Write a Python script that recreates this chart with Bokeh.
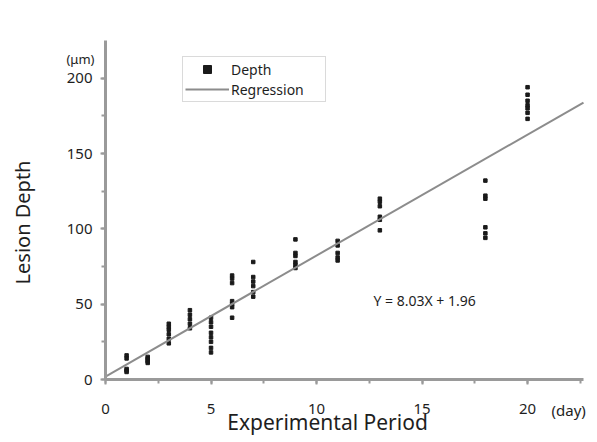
from bokeh.plotting import figure
from bokeh.models import Range1d, Label, Legend, LegendItem, FixedTicker
from bokeh.embed import file_html
from bokeh.resources import INLINE
import numpy as np

# ---- data ----
days = [1, 2, 3, 4, 5, 6, 7, 9, 11, 13, 18, 20]
depth_by_day = [
    [16, 14, 7, 6, 5],
    [15, 14, 13, 12, 11],
    [37, 35, 33, 30, 27, 24],
    [46, 43, 40, 37, 34],
    [41, 38, 35, 31, 28, 25, 21, 18],
    [69, 67, 64, 52, 50, 48, 41],
    [78, 68, 65, 62, 58, 55],
    [93, 84, 82, 78, 76, 74],
    [92, 89, 84, 81, 79],
    [120, 118, 115, 108, 106, 99],
    [132, 122, 120, 101, 97, 94],
    [194, 189, 185, 182, 180, 177, 173],
]
slope = 8.03
intercept = 1.96
x_ticks = [0, 5, 10, 15, 20]
y_ticks = [0, 50, 100, 150, 200]
x_axis_end = 22.65
y_axis_end = 225

xs = [d for d, vals in zip(days, depth_by_day) for _ in vals]
ys = [v for vals in depth_by_day for v in vals]
reg_x = np.array([0.0, x_axis_end])
reg_y = slope * reg_x + intercept

FONT = "Noto Sans"
TXT = "#1e1e1e"
AX = "#9a9a9a"

W, H = 597, 442
x0_px, x1_px = 105, 583      # canvas x of 0 and of axis end
y0_px, y1_px = 379, 40       # canvas y of 0 and of axis end
sx = (x1_px - x0_px) / x_axis_end
sy = (y0_px - y1_px) / y_axis_end
x_range = Range1d(-x0_px / sx, x_axis_end + (W - x1_px) / sx)
y_range = Range1d(-(H - y0_px) / sy, y_axis_end + y1_px / sy)

p = figure(width=W, height=H, output_backend="svg", toolbar_location=None,
           x_range=x_range, y_range=y_range, min_border=0)
p.outline_line_color = None
p.xgrid.grid_line_color = None
p.ygrid.grid_line_color = None
p.background_fill_color = "white"
p.border_fill_color = "white"

for ax in (p.xaxis[0], p.yaxis[0]):
    ax.fixed_location = 0
    ax.axis_line_color = AX
    ax.axis_line_width = 3
    ax.major_tick_line_color = AX
    ax.minor_tick_line_color = AX
    ax.major_tick_line_width = 2
    ax.minor_tick_line_width = 2
    ax.major_tick_in = 0
    ax.minor_tick_in = 0
    ax.major_tick_out = 5
    ax.minor_tick_out = 4
    ax.major_label_text_font = FONT
    ax.major_label_text_font_size = "15px"
    ax.major_label_text_color = TXT

p.xaxis[0].bounds = (0, x_axis_end)
p.yaxis[0].bounds = (0, y_axis_end)
p.xaxis[0].ticker = FixedTicker(ticks=x_ticks, minor_ticks=list(np.arange(0, x_axis_end, 2.5)))
p.yaxis[0].ticker = FixedTicker(ticks=y_ticks, minor_ticks=list(range(0, y_axis_end, 25)))
p.xaxis[0].major_label_standoff = 19
p.yaxis[0].major_label_standoff = 8

r_pts = p.scatter(xs, ys, marker="square", size=3.5, color="#1a1a1a")
r_line = p.line(reg_x, reg_y, line_color="#8c8c8c", line_width=2)

legend = Legend(items=[LegendItem(label="Depth", renderers=[r_pts]),
                       LegendItem(label="Regression", renderers=[r_line])],
                location=(182, H - 102), orientation="vertical")
legend.glyph_width = 44
legend.glyph_height = 20
legend.label_height = 20
legend.label_width = 92
legend.label_standoff = 2
legend.spacing = 0
legend.padding = 2
legend.margin = 0
legend.border_line_color = "#b5b5b5"
legend.border_line_width = 1
legend.label_text_font = FONT
legend.label_text_font_size = "14px"
legend.label_text_color = TXT
p.add_layout(legend)

def lab(text, px, py, size, align="left", angle=0):
    # px, py: canvas pixel position converted into data units
    x = (px - x0_px) / sx
    y = (y0_px - py) / sy
    p.add_layout(Label(x=x, y=y, text=text, text_font=FONT, text_font_size=size,
                       text_color=TXT, text_align=align, text_baseline="middle", angle=angle))

lab("Y = 8.03X + 1.96", 373, 300, "14px")
lab("(μm)", 94, 58, "13px", align="right")
lab("(day)", 551, 409, "15px")
lab("Experimental Period", 327, 421, "21px", align="center")
lab("Lesion Depth", 22, 222, "20px", align="center", angle=np.pi / 2)

open("out.html", "w").write(file_html(p, INLINE))
